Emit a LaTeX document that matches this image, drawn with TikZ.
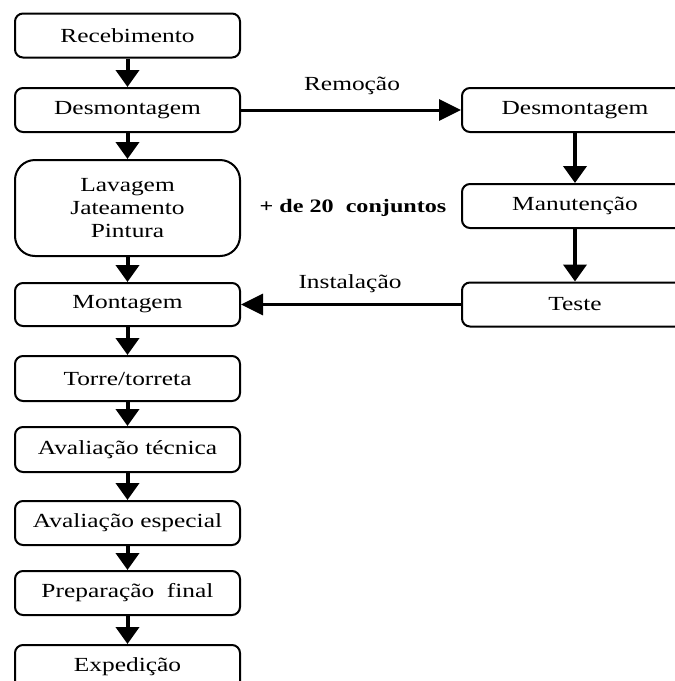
\documentclass[tikz,border=0pt]{standalone}
\usepackage{fontspec}
\setmainfont{Liberation Serif}[FakeStretch=1.27]
\usetikzlibrary{arrows.meta}
\begin{document}
\begin{tikzpicture}[x=1pt,y=-1pt,
  box/.style={draw, line width=2pt, rounded corners=8pt, fill=white,
    minimum width=225pt, minimum height=44pt, inner sep=0pt,
    font=\fontsize{20}{23}\selectfont, align=center},
  rbox/.style={box, minimum width=226pt},
  flow/.style={line width=4pt, -{Triangle[width=23pt,length=17pt]}},
  hflow/.style={line width=3pt, -{Triangle[width=21pt,length=22pt]}},
  lbl/.style={font=\fontsize{20}{23}\selectfont, inner sep=0pt}]
\clip (0,0) rectangle (675,681);
\fill[white] (0,0) rectangle (675,681);
% left column
\node[box] (rec) at (127.5,35.5) {Recebimento};
\node[box] (des) at (127.5,110) {Desmontagem};
\node[box, minimum height=96pt, rounded corners=20pt] (lav) at (127.5,208) {Lavagem\\Jateamento\\Pintura};
\node[box, minimum height=43pt] (mon) at (127.5,304.5) {Montagem};
\node[box, minimum height=45pt] (tor) at (127.5,378.5) {Torre/torreta};
\node[box, minimum height=45pt] (avt) at (127.5,449.5) {Avaliação técnica};
\node[box] (ave) at (127.5,523) {Avaliação especial};
\node[box] (pre) at (127.5,593) {Preparação~ final};
\node[box] (exp) at (127.5,667) {Expedição};
% right column
\node[rbox] (rdes) at (575,110) {Desmontagem};
\node[rbox] (man) at (575,206) {Manutenção};
\node[rbox] (tes) at (575,304.5) {Teste};
% arrows
\draw[flow] (rec) -- (des);
\draw[flow] (des) -- (lav);
\draw[flow] (lav) -- (mon);
\draw[flow] (mon) -- (tor);
\draw[flow] (tor) -- (avt);
\draw[flow] (avt) -- (ave);
\draw[flow] (ave) -- (pre);
\draw[flow] (pre) -- (exp);
\draw[flow] (rdes) -- (man);
\draw[flow] (man) -- (tes);
\draw[hflow] (des.east) -- (rdes.west);
\draw[hflow] (tes.west) -- (mon.east);
% labels
\node[lbl] (lrem) at (352,86) {Remoção};
\node[lbl] (lins) at (350,284) {Instalação};
\node[lbl, font=\fontsize{19}{23}\selectfont\bfseries] (lcon) at (353,208) {+ de 20~ conjuntos};
\end{tikzpicture}
\end{document}
